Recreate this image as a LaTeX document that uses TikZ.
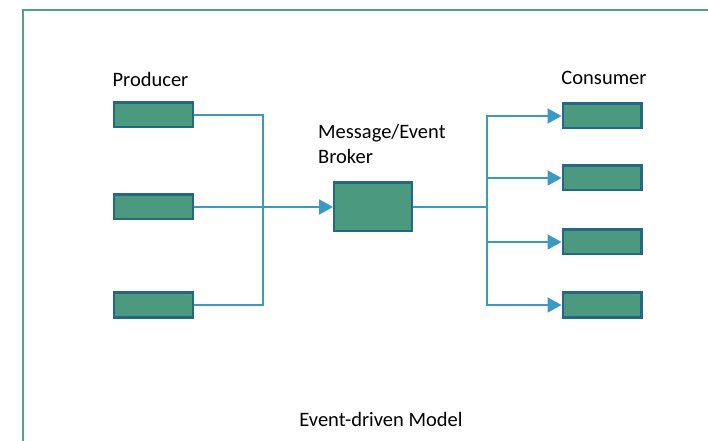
\documentclass[tikz,border=0pt]{standalone}
\usepackage{fontspec}
\setmainfont{Carlito}
\usetikzlibrary{arrows.meta}

\definecolor{boxfill}{HTML}{4B9A7F}
\definecolor{boxedge}{HTML}{256884}
\definecolor{wire}{HTML}{3B9AC4}
\definecolor{framegreen}{HTML}{52A285}

\tikzset{
  unit/.style={draw=boxedge, fill=boxfill, line width=2.4bp,
               minimum width=78.6bp, minimum height=24.6bp, inner sep=0pt},
  hub/.style={unit, minimum width=77.6bp, minimum height=48.6bp},
  label/.style={font=\fontsize{20.5bp}{25bp}\selectfont, inner sep=0pt},
  wireline/.style={draw=wire, line width=2bp},
  feed/.style={wireline, -{Triangle[length=14bp,width=15bp]}}
}

\begin{document}
\begin{tikzpicture}[x=1bp, y=-1bp]
  \useasboundingbox (0,0) rectangle (708,441);
  \clip (0,0) rectangle (708,441);

  % outer frame, running off the right and bottom edges
  \draw[framegreen, line width=2.5bp] (23,10) rectangle (740,480);

  % producers
  \node[label] (prodtitle) at (150.5,79) {Producer};
  \node[unit] (p1) at (153.5,115) {};
  \node[unit] (p2) at (153.5,207) {};
  \node[unit] (p3) at (153.5,305) {};

  % broker
  \node[label, anchor=base west, align=left] (brokertitle) at (318,164)
    {Message/Event\\Broker};
  \node[hub] (broker) at (373,207) {};

  % consumers
  \node[label] (constitle) at (604,78) {Consumer};
  \node[unit] (c1) at (602,116) {};
  \node[unit] (c2) at (602,178) {};
  \node[unit] (c3) at (602,242) {};
  \node[unit] (c4) at (602,305) {};

  \node[label] (caption) at (381,419) {Event-driven Model};

  % junctions
  \coordinate (jL) at (263,207);
  \coordinate (jR) at (487,207);

  % producer side
  \draw[wireline] (p1.east) -| (jL);
  \draw[wireline] (p3.east) -| (jL);
  \draw[feed] (p2.east) -- (broker.west);

  % consumer side
  \draw[wireline] (broker.east) -- (jR);
  \foreach \c in {c1,c2,c3,c4}
    \draw[feed] (jR) |- (\c.west);
\end{tikzpicture}
\end{document}
